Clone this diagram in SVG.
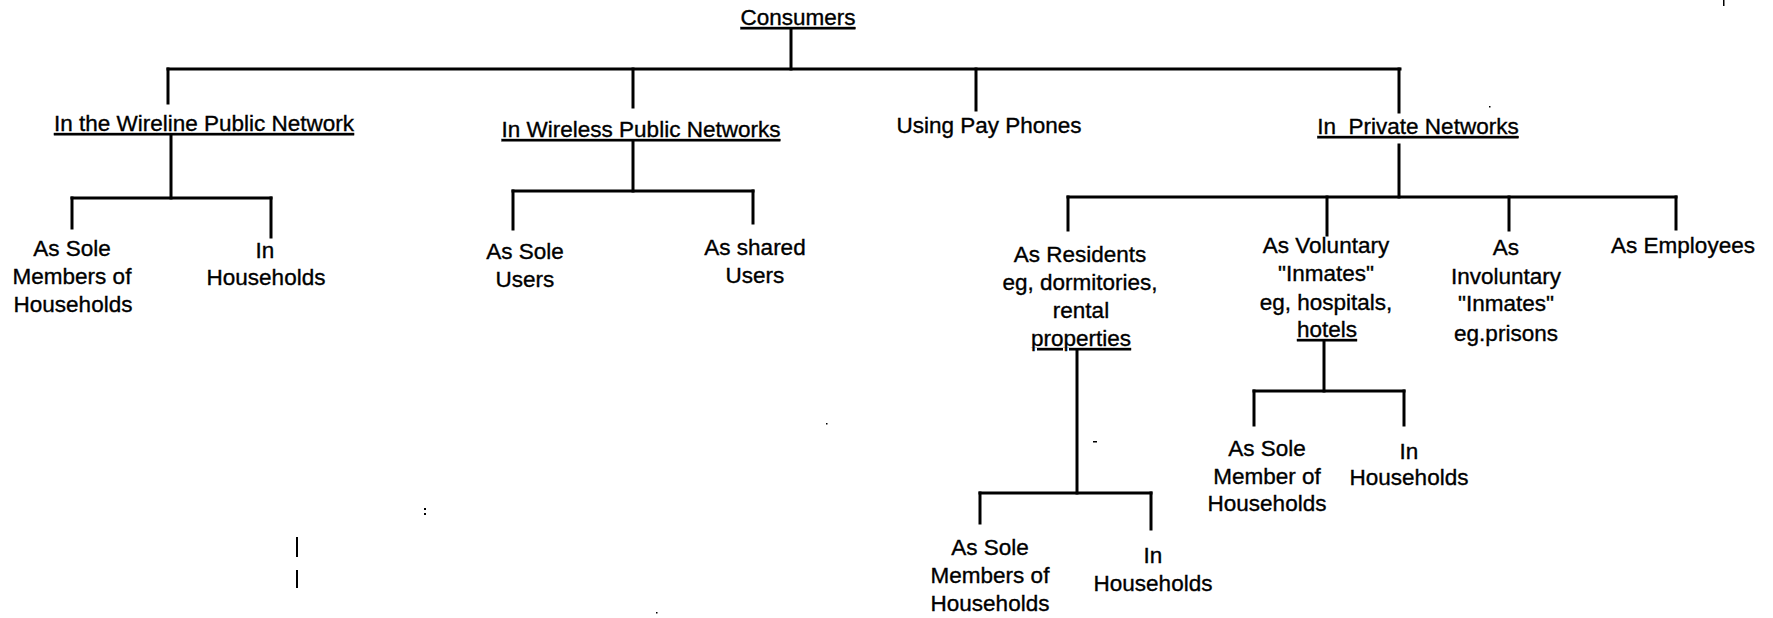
<svg xmlns="http://www.w3.org/2000/svg" width="1773" height="618" viewBox="0 0 1773 618">
<style>
text{font-family:"Liberation Sans",Arial,sans-serif;font-size:22.5px;fill:#000;stroke:#000;stroke-width:0.35px;text-anchor:middle}
.u{text-decoration:underline}
.c line{stroke:#000;stroke-width:3;stroke-linecap:square}
</style>
<rect width="1773" height="618" fill="#fff"/>
<g class="c" id="connectors">
<line x1="791" y1="30" x2="791" y2="69"/>
<line x1="168" y1="69" x2="1400" y2="69"/>
<line x1="168" y1="69" x2="168" y2="103"/>
<line x1="633" y1="69" x2="633" y2="107"/>
<line x1="976" y1="69" x2="976" y2="110"/>
<line x1="1399" y1="69" x2="1399" y2="112"/>
<line x1="171" y1="135" x2="171" y2="198"/>
<line x1="72" y1="198" x2="271" y2="198"/>
<line x1="72" y1="198" x2="72" y2="228"/>
<line x1="271" y1="198" x2="271" y2="237"/>
<line x1="633" y1="141" x2="633" y2="191"/>
<line x1="513" y1="191" x2="753" y2="191"/>
<line x1="513" y1="191" x2="513" y2="229"/>
<line x1="753" y1="191" x2="753" y2="223"/>
<line x1="1399" y1="145" x2="1399" y2="197"/>
<line x1="1068" y1="197" x2="1676" y2="197"/>
<line x1="1068" y1="197" x2="1068" y2="230"/>
<line x1="1327" y1="197" x2="1327" y2="235"/>
<line x1="1509" y1="197" x2="1509" y2="230"/>
<line x1="1676" y1="197" x2="1676" y2="229"/>
<line x1="1077" y1="350" x2="1077" y2="493"/>
<line x1="980" y1="493" x2="1151" y2="493"/>
<line x1="980" y1="493" x2="980" y2="523"/>
<line x1="1151" y1="493" x2="1151" y2="529"/>
<line x1="1324" y1="341" x2="1324" y2="391"/>
<line x1="1254" y1="391" x2="1404" y2="391"/>
<line x1="1254" y1="391" x2="1254" y2="425"/>
<line x1="1404" y1="391" x2="1404" y2="425"/>
</g>
<g id="consumers"><text class="u" x="798" y="25">Consumers</text></g>
<g id="wireline"><text class="u" x="204" y="131">In the Wireline Public Network</text></g>
<g id="wireless"><text class="u" x="641" y="137">In Wireless Public Networks</text></g>
<g id="payphones"><text x="989" y="133">Using Pay Phones</text></g>
<g id="private"><text class="u" x="1418" y="134" xml:space="preserve">In  Private Networks</text></g>
<g id="wl-sole"><text x="72" y="256">As Sole</text><text x="72" y="284">Members of</text><text x="73" y="312">Households</text></g>
<g id="wl-house"><text x="265" y="258">In</text><text x="266" y="285">Households</text></g>
<g id="ws-sole"><text x="525" y="259">As Sole</text><text x="525" y="287">Users</text></g>
<g id="ws-shared"><text x="755" y="255">As shared</text><text x="755" y="283">Users</text></g>
<g id="residents"><text x="1080" y="262">As Residents</text><text x="1080" y="290">eg, dormitories,</text><text x="1081" y="318">rental</text><text class="u" x="1081" y="346">properties</text></g>
<g id="voluntary"><text x="1326" y="253">As Voluntary</text><text x="1326" y="281">"Inmates"</text><text x="1326" y="310">eg, hospitals,</text><text class="u" x="1327" y="337">hotels</text></g>
<g id="involuntary"><text x="1506" y="255">As</text><text x="1506" y="284">Involuntary</text><text x="1506" y="311">"Inmates"</text><text x="1506" y="341">eg.prisons</text></g>
<g id="employees"><text x="1683" y="253">As Employees</text></g>
<g id="res-sole"><text x="990" y="555">As Sole</text><text x="990" y="583">Members of</text><text x="990" y="611">Households</text></g>
<g id="res-house"><text x="1153" y="563">In</text><text x="1153" y="591">Households</text></g>
<g id="vol-sole"><text x="1267" y="456">As Sole</text><text x="1267" y="484">Member of</text><text x="1267" y="511">Households</text></g>
<g id="vol-house"><text x="1409" y="459">In</text><text x="1409" y="485">Households</text></g>
<g id="specks" fill="#000">
<rect x="424" y="508" width="2" height="2"/><rect x="424" y="513" width="2" height="2"/>
<rect x="296" y="537" width="2" height="20"/><rect x="296" y="570" width="2" height="18"/>
<rect x="1093" y="441" width="4" height="1.5"/>
<rect x="826" y="423" width="1.5" height="1.5"/><rect x="656" y="612" width="1.5" height="1.5"/>
<rect x="1489" y="106" width="1.5" height="1.5"/><rect x="1723" y="0" width="1.5" height="6"/>
</g>
</svg>
